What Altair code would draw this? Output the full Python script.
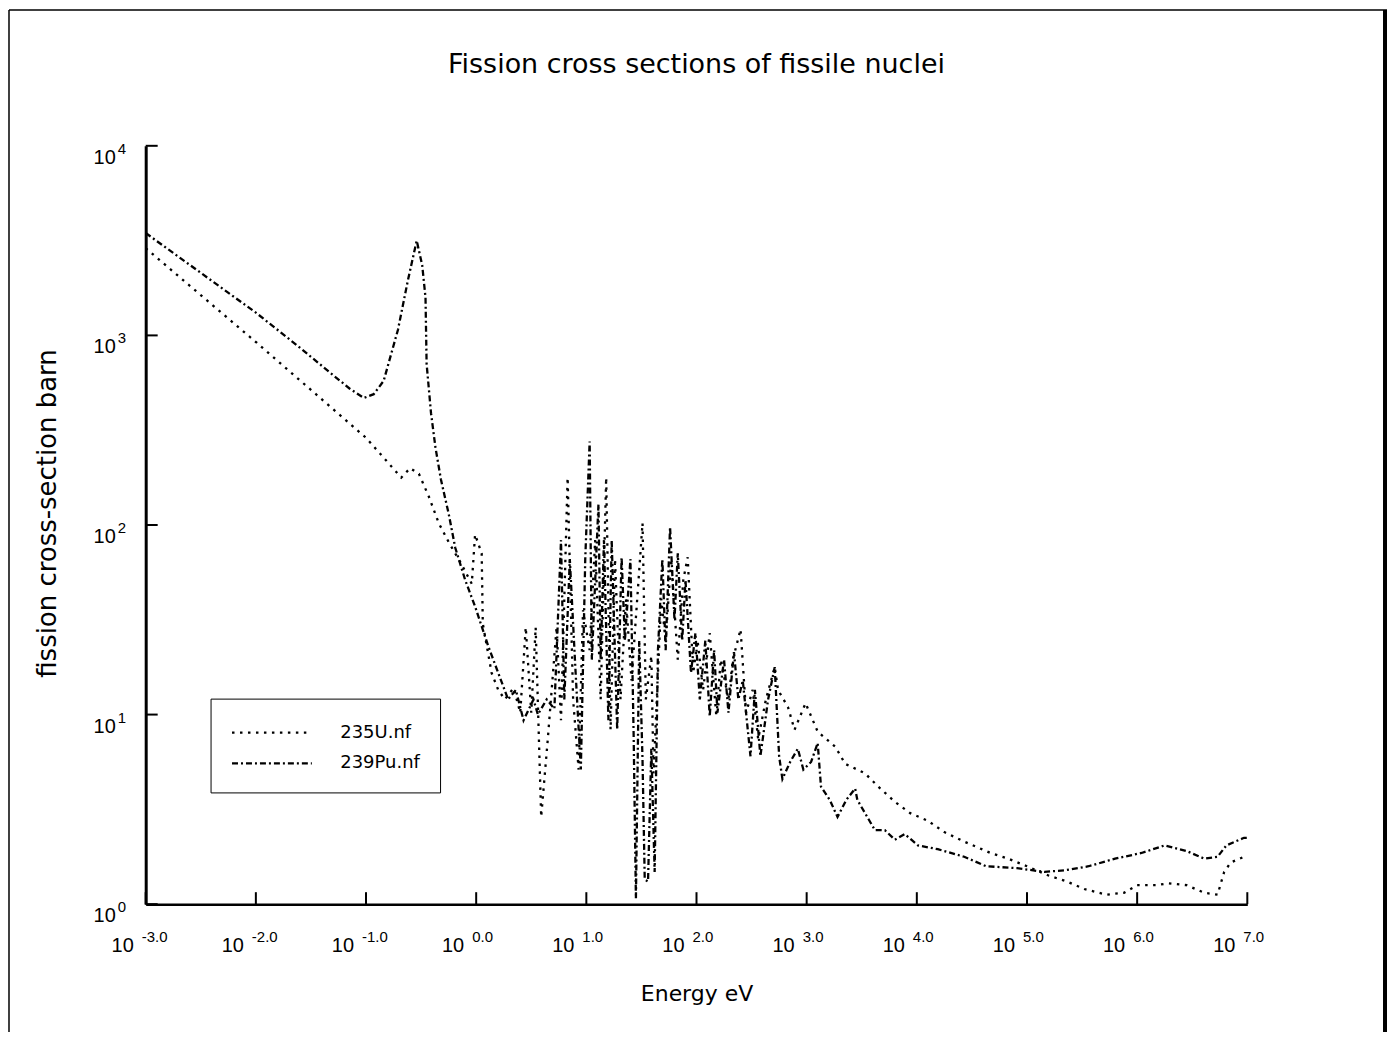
import altair as alt
import pandas as pd

# ---- data (log10 of energy in eV, log10 of cross section in barn) ----
series_names = ["235U.nf", "239Pu.nf"]

u235_log_energy = [-3.00, -1.99, -1.00, -0.68, -0.60, -0.52, -0.43, -0.34, -0.25, -0.14,
                   -0.04, -0.01, 0.05, 0.06, 0.14, 0.20, 0.26, 0.34, 0.40, 0.45,
                   0.50, 0.54, 0.59, 0.65, 0.73, 0.77, 0.83, 0.88, 0.93, 0.97,
                   1.03, 1.08, 1.13, 1.18, 1.22, 1.26, 1.31, 1.36, 1.41, 1.51,
                   1.54, 1.59, 1.61, 1.68, 1.72, 1.77, 1.83, 1.88, 1.92, 1.97,
                   2.01, 2.06, 2.12, 2.18, 2.22, 2.29, 2.33, 2.40, 2.45, 2.51,
                   2.56, 2.63, 2.71, 2.74, 2.83, 2.89, 2.99, 3.10, 3.26, 3.35,
                   3.53, 3.65, 3.80, 3.94, 4.10, 4.25, 4.43, 4.55, 4.67, 4.83,
                   5.00, 5.20, 5.36, 5.52, 5.72, 5.88, 6.00, 6.17, 6.28, 6.45,
                   6.61, 6.73, 6.79, 6.85, 6.97, 7.00]
u235_log_sigma = [3.46, 2.96, 2.46, 2.25, 2.30, 2.27, 2.15, 2.01, 1.91, 1.80,
                  1.69, 1.95, 1.85, 1.48, 1.22, 1.13, 1.08, 1.14, 1.01, 1.46,
                  1.01, 1.46, 0.46, 0.87, 1.46, 0.97, 2.25, 1.08, 0.71, 1.55,
                  1.34, 1.92, 1.08, 2.25, 0.92, 1.82, 1.08, 1.61, 1.18, 2.01,
                  1.08, 1.31, 0.69, 1.61, 1.39, 1.82, 1.29, 1.71, 1.83, 1.22,
                  1.39, 1.13, 1.43, 0.99, 1.29, 1.08, 1.29, 1.45, 1.01, 1.13,
                  0.87, 1.08, 1.25, 1.13, 1.04, 0.92, 1.06, 0.91, 0.83, 0.74,
                  0.69, 0.62, 0.54, 0.48, 0.44, 0.38, 0.33, 0.30, 0.27, 0.24,
                  0.20, 0.15, 0.12, 0.08, 0.05, 0.06, 0.10, 0.10, 0.11, 0.10,
                  0.06, 0.05, 0.17, 0.22, 0.25, 0.25]

pu239_log_energy = [-3.00, -2.50, -2.00, -1.61, -1.34, -1.15, -1.02, -0.93, -0.84, -0.71,
                    -0.62, -0.54, -0.49,
                    -0.46, -0.45, -0.41, -0.37, -0.32, -0.25, -0.19, -0.10, -0.01, 0.11,
                    0.20, 0.29, 0.36, 0.43, 0.52, 0.56, 0.64, 0.71, 0.77, 0.80,
                    0.85, 0.90, 0.95, 0.99, 1.03, 1.05, 1.11, 1.13, 1.16, 1.20,
                    1.23, 1.28, 1.32, 1.35, 1.40, 1.43, 1.45, 1.48, 1.51, 1.53,
                    1.56, 1.59, 1.62, 1.65, 1.69, 1.72, 1.76, 1.80, 1.83, 1.87,
                    1.90, 1.95, 1.99, 2.03, 2.08, 2.12, 2.16, 2.19, 2.25, 2.29,
                    2.34, 2.38, 2.42, 2.49, 2.53, 2.58, 2.65, 2.71, 2.75, 2.78,
                    2.85, 2.92, 2.97, 3.04, 3.10, 3.13, 3.21, 3.28, 3.36, 3.44,
                    3.46, 3.55, 3.62, 3.71, 3.80, 3.89, 4.01, 4.19, 4.43, 4.63,
                    4.91, 5.16, 5.36, 5.56, 5.80, 6.04, 6.25, 6.45, 6.61, 6.73,
                    6.81, 6.97, 7.00]
pu239_log_sigma = [3.54, 3.33, 3.12, 2.94, 2.81, 2.72, 2.67, 2.69, 2.76, 3.03,
                   3.29, 3.50, 3.37,
                   3.20, 2.85, 2.59, 2.41, 2.24, 2.06, 1.88, 1.71, 1.57, 1.36,
                   1.22, 1.08, 1.13, 0.97, 1.08, 1.00, 1.08, 1.03, 1.92, 1.08,
                   1.82, 1.25, 0.71, 1.82, 2.44, 1.29, 2.11, 1.29, 1.92, 0.97,
                   1.92, 0.92, 1.83, 1.39, 1.82, 0.87, 0.03, 1.39, 0.76, 0.13,
                   0.12, 0.82, 0.17, 1.34, 1.82, 1.34, 1.99, 1.50, 1.85, 1.39,
                   1.71, 1.22, 1.43, 1.08, 1.39, 0.99, 1.34, 1.01, 1.29, 1.01,
                   1.33, 1.08, 1.18, 0.78, 1.13, 0.78, 1.08, 1.25, 0.78, 0.66,
                   0.75, 0.82, 0.71, 0.75, 0.85, 0.62, 0.55, 0.46, 0.55, 0.61,
                   0.55, 0.46, 0.39, 0.39, 0.34, 0.37, 0.31, 0.29, 0.25, 0.20,
                   0.19, 0.17, 0.18, 0.20, 0.24, 0.27, 0.31, 0.28, 0.24, 0.25,
                   0.31, 0.35, 0.35]

x_tick_exponents = [-3, -2, -1, 0, 1, 2, 3, 4, 5, 6, 7]
x_tick_labels = ["-3.0", "-2.0", "-1.0", "0.0", "1.0", "2.0", "3.0", "4.0", "5.0", "6.0", "7.0"]
y_tick_exponents = [0, 1, 2, 3, 4]
y_tick_labels = ["0", "1", "2", "3", "4"]

chart_title = "Fission cross sections of fissile nuclei"
x_title = "Energy eV"
y_title = "fission cross-section barn"

# ---- tables ----
rows = []
for name, le, ls in [(series_names[0], u235_log_energy, u235_log_sigma),
                     (series_names[1], pu239_log_energy, pu239_log_sigma)]:
    for i, (a, b) in enumerate(zip(le, ls)):
        rows.append({"nuclide": name, "order": i, "energy": 10.0 ** a, "sigma": 10.0 ** b})
df = pd.DataFrame(rows)

xt = pd.DataFrame({"energy": [10.0 ** k for k in x_tick_exponents], "label": x_tick_labels})
yt = pd.DataFrame({"sigma": [10.0 ** k for k in y_tick_exponents], "label": y_tick_labels})
one = pd.DataFrame({"k": [0]})

W, H = 1104, 760
TXT = "DejaVu Sans"
NUM = "Liberation Sans"

xs = alt.Scale(type="log", domain=[1e-3, 1e7], nice=False)
ys = alt.Scale(type="log", domain=[1, 1e4], nice=False)

x_axis = alt.Axis(title=x_title, ticks=False, labels=False, grid=False,
                  domainColor="black", domainWidth=2.5,
                  titleFont=TXT, titleFontSize=22, titleFontWeight="normal",
                  titleColor="black", titlePadding=80)
y_axis = alt.Axis(title=y_title, ticks=False, labels=False, grid=False,
                  domainColor="black", domainWidth=3,
                  titleFont=TXT, titleFontSize=26, titleFontWeight="normal",
                  titleColor="black", titlePadding=85, titleY=368)

X = alt.X("energy:Q", scale=xs, axis=x_axis)
Y = alt.Y("sigma:Q", scale=ys, axis=y_axis)

lines = alt.Chart(df).mark_line(color="black", strokeWidth=2.3, strokeCap="butt").encode(
    x=X,
    y=Y,
    strokeDash=alt.StrokeDash(
        "nuclide:N",
        scale=alt.Scale(domain=series_names, range=[[2.5, 5.5], [6, 3, 2, 3]]),
        legend=alt.Legend(title=None, orient="none", legendX=65, legendY=554,
                          symbolType="M-1,0H5.4", symbolSize=625, symbolStrokeWidth=2.3,
                          symbolStrokeColor="black",
                          labelFont=TXT, labelFontSize=18, labelColor="black",
                          labelOffset=82, rowPadding=8, padding=20,
                          strokeColor="black", fillColor="white",
                          labelExpr="datum.label + '\u00a0\u00a0'"),
    ),
    order="order:Q",
)

xticks = alt.Chart(xt).mark_rule(color="black", strokeWidth=2).encode(
    x=X, y=alt.value(H), y2=alt.value(H - 12))
yticks = alt.Chart(yt).mark_rule(color="black", strokeWidth=2).encode(
    y=Y, x=alt.value(0), x2=alt.value(12))

xlab10 = alt.Chart(xt).mark_text(text="10", align="right", baseline="alphabetic", dx=-12,
                                 font=NUM, fontSize=20, color="black").encode(
    x=X, y=alt.value(H + 48))
xlabexp = alt.Chart(xt).mark_text(align="left", baseline="alphabetic", dx=-4,
                                  font=NUM, fontSize=15, color="black").encode(
    x=X, y=alt.value(H + 38), text="label:N")

ylab10 = alt.Chart(yt).mark_text(text="10", align="right", baseline="alphabetic", dy=18,
                                 font=NUM, fontSize=20, color="black").encode(
    y=Y, x=alt.value(-30))
ylabexp = alt.Chart(yt).mark_text(align="left", baseline="alphabetic", dy=8,
                                  font=NUM, fontSize=15, color="black").encode(
    y=Y, x=alt.value(-28), text="label:N")

title_text = alt.Chart(one).mark_text(text=chart_title, align="center", baseline="alphabetic",
                                      font=TXT, fontSize=27, color="black").encode(
    x=alt.value(W / 2), y=alt.value(-73))

frame_top = alt.Chart(one).mark_rule(color="black", strokeWidth=1.5).encode(
    x=alt.value(-137), x2=alt.value(1244), y=alt.value(-136))
frame_left = alt.Chart(one).mark_rule(color="black", strokeWidth=1.5).encode(
    x=alt.value(-137), y=alt.value(-136), y2=alt.value(890))
frame_right = alt.Chart(one).mark_rule(color="black", strokeWidth=4).encode(
    x=alt.value(1242), y=alt.value(-136), y2=alt.value(890))

chart = alt.layer(
    lines, xticks, yticks, xlab10, xlabexp, ylab10, ylabexp, title_text,
    frame_top, frame_left, frame_right,
).properties(
    width=W, height=H,
    padding={"left": 138, "top": 137, "right": 141, "bottom": 127},
    autosize="none",
).configure_view(stroke=None)

chart.save("out.html", embed_options={"renderer": "svg", "actions": False})
